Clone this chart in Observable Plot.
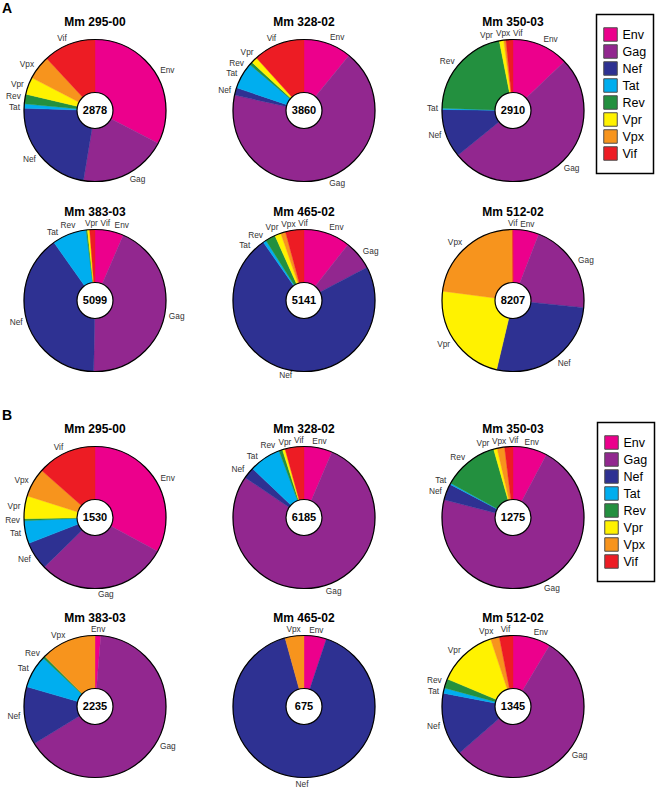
<!DOCTYPE html>
<html><head><meta charset="utf-8">
<script src="https://cdn.jsdelivr.net/npm/d3@7"></script>
<script src="https://cdn.jsdelivr.net/npm/@observablehq/plot@0.6"></script>
<style>
body{margin:0;background:#fff;}
#fig{position:relative;width:656px;height:789px;font-family:"Liberation Sans",Arial,sans-serif;overflow:hidden;background:#fff;}
.cell{position:absolute;}
.cell svg{overflow:visible;display:block;}
.letter{position:absolute;font-weight:bold;font-size:14px;line-height:1;font-family:"Liberation Sans",Arial,sans-serif;}
</style></head><body><div id="fig"></div>
<script>
// ---- data ----
const genes = ["Env","Gag","Nef","Tat","Rev","Vpr","Vpx","Vif"];
const geneColors = ["#EC008C","#92278F","#2E3192","#00AEEF","#23903F","#FFF200","#F7941D","#ED1C24"];
const animals = ["Mm 295-00","Mm 328-02","Mm 350-03","Mm 383-03","Mm 465-02","Mm 512-02"];
const totalsA = [2878, 3860, 2910, 5099, 5141, 8207];
const totalsB = [1530, 6185, 1275, 2235, 675, 1345];
// percentage of reads per gene (panel A), one value per animal
const envA = [32.6, 10.9, 12.9, 6.5, 10.6, 5.9];
const gagA = [20.0, 67.5, 51.3, 43.8, 6.7, 20.7];
const nefA = [22.9, 1.7, 11.1, 39.9, 73.0, 27.1];
const tatA = [1.0, 6.0, 0.3, 7.8, 0.7, 0];
const revA = [2.2, 0.7, 21.4, 0.3, 2.3, 0];
const vprA = [3.9, 1.4, 1.0, 0.5, 1.4, 23.4];
const vpxA = [5.5, 0, 0.5, 0, 1.1, 22.8];
const vifA = [11.9, 11.7, 1.6, 1.2, 4.2, 0.1];
// panel B
const envB = [32.9, 6.4, 7.8, 1.3, 5.1, 8.6];
const gagB = [29.8, 78.0, 71.3, 64.9, 0, 55.0];
const nefB = [6.4, 2.6, 3.7, 13.2, 90.6, 14.4];
const tatB = [5.2, 7.2, 0.3, 7.5, 0, 1.2];
const revB = [0.45, 0.8, 12.6, 0.5, 0, 2.1];
const vprB = [5.2, 0.6, 0.8, 0, 0, 13.6];
const vpxB = [6.6, 0, 1.7, 12.5, 4.3, 2.0];
const vifB = [13.5, 4.3, 1.9, 0, 0, 3.1];

// ---- layout ----
const R = 71, W = 209, H = 192, CY = 102, TITLE_DY = 9;
const colX = [94, 303, 512];
const rowY = [110, 300, 517, 706];
const LFS = 8.3;
const fontFamily = "Liberation Sans, Arial, sans-serif";
const fig = document.getElementById("fig");
const ctx = document.createElement("canvas").getContext("2d");
function textWidth(s, size, weight) {
  ctx.font = `${weight || "normal"} ${size}px "Liberation Sans", Arial, sans-serif`;
  return ctx.measureText(s).width;
}

function placeLabels(slices, title) {
  const L = slices.map(s => ({gene: s.gene, m: (s.a0 + s.a1) / 2, w: textWidth(s.gene, LFS)}));
  const tw = textWidth(title, 12, "bold") / 2 + 1;
  const ty = CY - TITLE_DY; // title centre in data units
  const geom = l => {
    const s = Math.sin(l.m), c = Math.cos(l.m);
    const d = R + 4 + 2.5 * Math.abs(c);
    const x = d * s, y = d * c;
    const anchor = s > 0.25 ? "start" : s < -0.25 ? "end" : "middle";
    const x0 = anchor === "start" ? x : anchor === "end" ? x - l.w : x - l.w / 2;
    return {x, y, anchor, x0, x1: x0 + l.w, y0: y - 5.2, y1: y + 5.2};
  };
  for (let it = 0; it < 2000; it++) {
    let moved = false;
    for (let i = 0; i < L.length; i++) for (let j = i + 1; j < L.length; j++) {
      const a = geom(L[i]), b = geom(L[j]);
      if (a.x0 < b.x1 + 2.5 && b.x0 < a.x1 + 2.5 && a.y0 < b.y1 && b.y0 < a.y1) {
        const diff = L[j].m - L[i].m;
        const dir = diff < Math.PI ? 1 : -1;
        L[i].m -= dir * 0.004; L[j].m += dir * 0.004; moved = true;
      }
    }
    // keep labels clear of the title
    for (const l of L) {
      const g = geom(l);
      if (g.x0 < tw && g.x1 > -tw && g.y1 > ty - 7.5) {
        l.m += Math.sin(l.m) >= 0 ? 0.004 : -0.004; moved = true;
      }
    }
    if (!moved) break;
  }
  return L.map(l => ({gene: l.gene, ...geom(l)}));
}

function piePlot(title, total, values) {
  const sum = d3.sum(values);
  let acc = 0;
  const slices = [];
  genes.forEach((g, k) => {
    const a0 = acc / sum * 2 * Math.PI; acc += values[k]; const a1 = acc / sum * 2 * Math.PI;
    if (values[k] > 0) slices.push({gene: g, a0, a1});
  });
  const pts = [];
  slices.forEach((s, k) => {
    pts.push({id: k, gene: s.gene, x: 0, y: 0});
    const n = Math.max(2, Math.ceil((s.a1 - s.a0) / (Math.PI / 360)));
    for (let j = 0; j <= n; j++) {
      const a = s.a0 + (s.a1 - s.a0) * j / n;
      pts.push({id: k, gene: s.gene, x: R * Math.sin(a), y: R * Math.cos(a)});
    }
    pts.push({id: k, gene: s.gene, x: 0, y: 0});
  });
  const labels = placeLabels(slices, title);
  const origin = [{x: 0, y: 0, t: String(total)}];
  return Plot.plot({
    width: W, height: H, margin: 0,
    x: {domain: [-W / 2, W / 2], range: [0, W], axis: null},
    y: {domain: [CY - H, CY], range: [H, 0], axis: null},
    color: {domain: genes, range: geneColors},
    style: {background: "transparent", overflow: "visible", fontFamily},
    marks: [
      Plot.line(pts, {x: "x", y: "y", z: "id", fill: "gene", stroke: "gene", strokeWidth: 0.4, curve: "linear"}),
      Plot.dot(origin, {x: "x", y: "y", r: R, stroke: "black", strokeWidth: 1.2, fill: "none"}),
      Plot.dot(origin, {x: "x", y: "y", r: 18, stroke: "black", strokeWidth: 1.2, fill: "white"}),
      Plot.text(origin, {x: "x", y: "y", text: "t", fontWeight: "bold", fontSize: 11, fill: "black"}),
      ...["start", "middle", "end"].map(a => Plot.text(labels.filter(l => l.anchor === a),
        {x: "x", y: "y", text: "gene", textAnchor: a, fontSize: LFS, fill: "#333"})),
      Plot.text([title], {text: d => d, frameAnchor: "top", dy: TITLE_DY, fontSize: 12, fontWeight: "bold", fill: "black"})
    ]
  });
}

function legendPlot() {
  return Plot.plot({
    width: 57, height: 159, margin: 0,
    x: {domain: [0, 57], range: [0, 57], axis: null},
    y: {type: "point", domain: genes, range: [10.5, 149], axis: null},
    color: {domain: genes, range: geneColors},
    style: {background: "white", overflow: "visible", fontFamily},
    marks: [
      Plot.frame({stroke: "black", strokeWidth: 1.5}),
      Plot.dot(genes, {x: () => 14, y: d => d, fill: d => d, symbol: "square", r: 7.6, stroke: "#4d4d4d", strokeWidth: 1}),
      Plot.text(genes, {x: () => 26, y: d => d, text: d => d, textAnchor: "start", fontSize: 12.5, fill: "black"})
    ]
  });
}

function place(node, left, top, w) {
  const div = document.createElement("div");
  div.className = "cell";
  div.style.left = left + "px";
  div.style.top = top + "px";
  div.style.width = w + "px";
  div.appendChild(node);
  fig.appendChild(div);
}

const panels = [
  {letter: "A", totals: totalsA, series: [envA, gagA, nefA, tatA, revA, vprA, vpxA, vifA], rows: [0, 1], legend: [596, 14], lt: 1},
  {letter: "B", totals: totalsB, series: [envB, gagB, nefB, tatB, revB, vprB, vpxB, vifB], rows: [2, 3], legend: [597, 422], lt: 408}
];
for (const p of panels) {
  animals.forEach((name, i) => {
    const values = p.series.map(s => s[i]);
    const r = p.rows[Math.floor(i / 3)], c = i % 3;
    place(piePlot(name, p.totals[i], values), colX[c] - W / 2, rowY[r] - CY, W);
  });
  place(legendPlot(), p.legend[0], p.legend[1], 57);
  const l = document.createElement("div");
  l.className = "letter"; l.textContent = p.letter;
  l.style.left = "2px"; l.style.top = p.lt + "px";
  fig.appendChild(l);
}
</script></body></html>
